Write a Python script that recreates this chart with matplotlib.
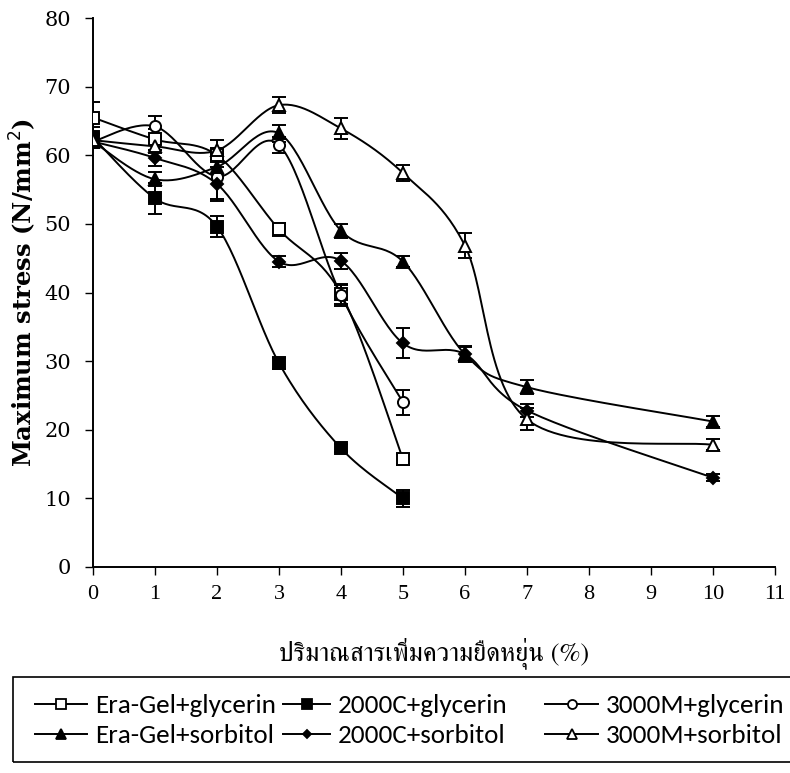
import numpy as np
import matplotlib
matplotlib.use('Agg')
import matplotlib.pyplot as plt
from matplotlib.lines import Line2D
from matplotlib.patches import Rectangle
from matplotlib import font_manager

# data
x_gly = [0, 1, 2, 3, 4, 5]
x_sor = [0, 1, 2, 3, 4, 5, 6, 7, 10]

era_gly = [65.5, 62.3, 60.0, 49.2, 39.8, 15.7]
era_gly_err = [2.3, 1.5, 1.0, 1.0, 1.5, 0.8]
c2000_gly = [62.6, 53.7, 49.6, 29.7, 17.3, 10.0]
c2000_gly_err = [1.5, 2.2, 1.5, 0.8, 0.6, 1.2]
m3000_gly = [62.0, 64.2, 56.9, 61.5, 39.6, 24.0]
m3000_gly_err = [1.0, 1.5, 3.3, 1.2, 1.5, 1.8]

era_sor = [62.0, 56.5, 58.3, 63.2, 49.0, 44.5, 31.0, 26.2, 21.2]
era_sor_err = [1.0, 1.0, 1.0, 1.2, 1.0, 0.8, 1.0, 1.0, 0.8]
c2000_sor = [62.0, 59.6, 55.8, 44.5, 44.6, 32.6, 31.0, 22.8, 13.0]
c2000_sor_err = [1.0, 1.2, 2.5, 0.8, 1.2, 2.2, 1.2, 1.0, 0.5]
m3000_sor = [62.2, 61.3, 60.7, 67.3, 63.9, 57.4, 46.8, 21.5, 17.8]
m3000_sor_err = [1.0, 1.0, 1.5, 1.2, 1.5, 1.2, 1.8, 1.6, 0.8]

labels = ['Era-Gel+glycerin', '2000C+glycerin', '3000M+glycerin',
          'Era-Gel+sorbitol', '2000C+sorbitol', '3000M+sorbitol']

installed = {f.name for f in font_manager.fontManager.ttflist}
thai_font = [f for f in ['FreeSerif', 'Taviraj', 'Noto Sans Thai']
             if f in installed][:1]
leg_font = [f for f in ['Carlito', 'Lato', 'Open Sans'] if f in installed][0]


def smooth(x, y, n=30):
    # Excel-like smoothed line (Catmull-Rom bezier)
    p = np.column_stack([x, y]).astype(float)
    out = [p[0]]
    for i in range(len(p) - 1):
        p0 = p[i - 1] if i > 0 else p[i]
        p1, p2 = p[i], p[i + 1]
        p3 = p[i + 2] if i + 2 < len(p) else p[i + 1]
        c1 = p1 + (p2 - p0) / 6
        c2 = p2 - (p3 - p1) / 6
        t = np.linspace(0, 1, n)[1:, None]
        seg = ((1 - t) ** 3 * p1 + 3 * (1 - t) ** 2 * t * c1
               + 3 * (1 - t) * t ** 2 * c2 + t ** 3 * p2)
        out.extend(seg)
    out = np.array(out)
    return out[:, 0], out[:, 1]


def fit_size(txt, target, dim='w'):
    # scale font so the rendered text spans `target` pixels
    r = fig.canvas.get_renderer()
    bb = txt.get_window_extent(r)
    cur = bb.width if dim == 'w' else bb.height
    txt.set_fontsize(txt.get_fontsize() * target / cur)


fig = plt.figure(figsize=(7.9, 7.73), dpi=100)
ax = fig.add_axes([93 / 790, 1 - 567 / 773, 682 / 790, 549 / 773])

series = [
    (x_gly, era_gly, era_gly_err, 's', 'white'),
    (x_gly, c2000_gly, c2000_gly_err, 's', 'black'),
    (x_gly, m3000_gly, m3000_gly_err, 'o', 'white'),
    (x_sor, era_sor, era_sor_err, '^', 'black'),
    (x_sor, c2000_sor, c2000_sor_err, 'D', 'black'),
    (x_sor, m3000_sor, m3000_sor_err, '^', 'white'),
]
sizes = {'s': 8, 'o': 8, '^': 8.5, 'D': 6}

handles = []
for (xs, ys, es, m, fc), lab in zip(series, labels):
    sx, sy = smooth(xs, ys)
    ax.plot(sx, sy, color='black', lw=1.4, zorder=2)
    ax.errorbar(xs, ys, yerr=es, fmt='none', ecolor='black',
                elinewidth=1.4, capsize=5, capthick=1.4, zorder=3)
    ax.plot(xs, ys, ls='none', marker=m, ms=sizes[m], mfc=fc,
            mec='black', mew=1.4, zorder=4)
    handles.append(Line2D([], [], color='black', lw=1.4, marker=m,
                          ms=sizes[m] - 1.5, mfc=fc, mec='black', mew=1.3,
                          label=lab))

ax.set_xlim(0, 11)
ax.set_ylim(0, 80)
ax.set_xticks(range(0, 12))
ax.set_yticks(range(0, 81, 10))
for s in ['top', 'right']:
    ax.spines[s].set_visible(False)
for s in ['left', 'bottom']:
    ax.spines[s].set_linewidth(1.4)
ax.tick_params(direction='out', length=6, width=1)
ax.tick_params(axis='x', pad=7)
ax.tick_params(axis='y', pad=10)
for t in ax.get_xticklabels():
    t.set_fontfamily('Liberation Serif')
    t.set_fontsize(16)
for t in ax.get_yticklabels():
    t.set_fontfamily('DejaVu Serif')
    t.set_fontsize(15)

yl = ax.set_ylabel('Maximum stress (N/mm$^2$)', fontsize=16, fontweight='bold',
                   fontfamily='DejaVu Serif', labelpad=4)
xl = ax.set_xlabel('ปริมาณสารเพิ่มความยืดหยุ่น (%)', fontsize=16,
                   family=thai_font + ['DejaVu Sans'], labelpad=24)
fit_size(yl, 350, 'h')
fit_size(xl, 310, 'w')

# legend: three columns placed like the original, box runs off the right edge
col_x = [35, 283, 545]
hlen = [52, 47, 53]
pairs = [(0, 3), (1, 4), (2, 5)]
probe = fig.text(0, 0, labels[0], family=leg_font, fontsize=14)
fit_size(probe, 182, 'w')
leg_fs = probe.get_fontsize()
probe.remove()
fs_px = leg_fs * 100 / 72
for cx, hl, (a, b) in zip(col_x, hlen, pairs):
    fig.legend([handles[a], handles[b]], [labels[a], labels[b]],
               loc='upper left', bbox_to_anchor=(cx / 790, 1 - 694 / 773),
               frameon=False, borderpad=0, borderaxespad=0,
               handlelength=hl / fs_px, handletextpad=0.3,
               labelspacing=(40 - fs_px * 1.2) / fs_px,
               prop={'family': leg_font, 'size': leg_fs})
fig.patches.append(Rectangle((13 / 790, 1 - 762 / 773), 1.0, 85 / 773,
                             transform=fig.transFigure, fill=False,
                             edgecolor='black', lw=1.2))

fig.savefig('out.png', dpi=100)
